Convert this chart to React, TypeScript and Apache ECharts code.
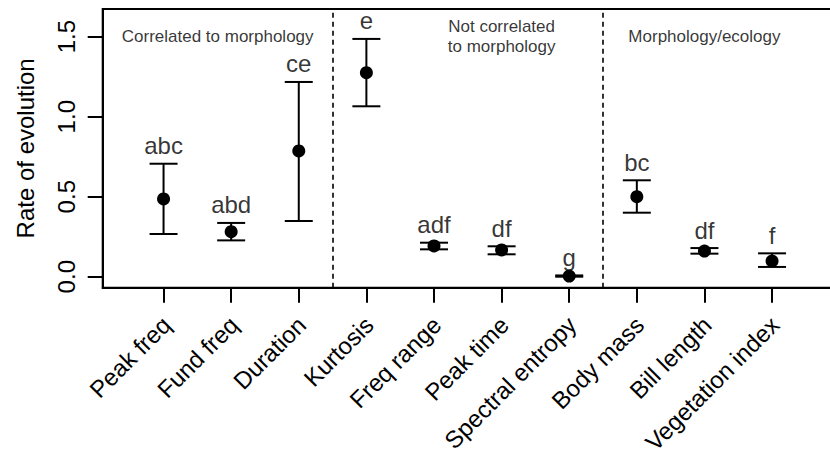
import React, { useEffect, useRef } from "react";
import * as echarts from "echarts";

const categories = [
  "Peak freq",
  "Fund freq",
  "Duration",
  "Kurtosis",
  "Freq range",
  "Peak time",
  "Spectral entropy",
  "Body mass",
  "Bill length",
  "Vegetation index",
];
const rate = [0.486, 0.281, 0.786, 1.275, 0.192, 0.167, 0.004, 0.5, 0.16, 0.098];
const lower = [0.267, 0.227, 0.348, 1.065, 0.171, 0.14, 0.0, 0.4, 0.144, 0.061];
const upper = [0.706, 0.336, 1.217, 1.486, 0.2125, 0.19, 0.008, 0.6025, 0.179, 0.146];
const letters = ["abc", "abd", "ce", "e", "adf", "df", "g", "bc", "df", "f"];
const yTicks = [0, 0.5, 1.0, 1.5];
const dividers = [3.5, 7.5];
const groupLabels = [
  { text: "Correlated to morphology", x: 1.8, y: 1.5 },
  { text: "Not correlated\nto morphology", x: 6, y: 1.5 },
  { text: "Morphology/ecology", x: 9, y: 1.5 },
];

const FONT = "'Liberation Sans', Arial, Helvetica, sans-serif";

export default function App() {
  const ref = useRef<HTMLDivElement>(null);
  useEffect(() => {
    if (!ref.current) return;
    const chart = echarts.init(ref.current, null, { renderer: "svg" });
    const positions = categories.map((_, i) => i + 1);
    const black = "#000";
    const option: any = {
      animation: false,
      textStyle: { fontFamily: FONT },
      grid: {
        left: 102.7,
        top: 9,
        width: 730.2,
        height: 278.7,
        show: true,
        borderColor: black,
        borderWidth: 2,
        containLabel: false,
        outerBoundsMode: "none",
      },
      xAxis: {
        type: "value",
        min: 0.1,
        max: 10.9,
        splitLine: { show: false },
        axisLine: { show: true, onZero: false, lineStyle: { color: black, width: 2 } },
        axisTick: {
          show: true,
          customValues: positions,
          length: 15,
          lineStyle: { color: black, width: 2 },
        },
        axisLabel: {
          customValues: positions,
          rotate: 45,
          fontSize: 24,
          color: black,
          fontFamily: FONT,
          margin: 36,
          padding: [0, -4, 0, 0],
          formatter: (v: number) => categories[Math.round(v) - 1] ?? "",
        },
      },
      yAxis: {
        type: "value",
        min: -0.06875,
        max: 1.673,
        splitLine: { show: false },
        name: "Rate of evolution",
        nameLocation: "middle",
        nameRotate: 90,
        nameGap: 65,
        nameTextStyle: { fontSize: 24, color: black, fontFamily: FONT },
        axisLine: { show: true, onZero: false, lineStyle: { color: black, width: 2 } },
        axisTick: {
          show: true,
          customValues: yTicks,
          length: 15,
          lineStyle: { color: black, width: 2 },
        },
        axisLabel: {
          customValues: yTicks,
          rotate: 90,
          fontSize: 24,
          color: black,
          fontFamily: FONT,
          margin: 24,
          formatter: (v: number) => v.toFixed(1),
        },
      },
      series: [
        {
          type: "custom",
          data: positions.map((p, i) => [p, lower[i], upper[i]]),
          encode: { x: 0, y: [1, 2] },
          renderItem: (params: any, api: any) => {
            const x = api.value(0);
            const pLo = api.coord([x, api.value(1)]);
            const pHi = api.coord([x, api.value(2)]);
            const hw = 14;
            const style = { stroke: black, lineWidth: 2 };
            return {
              type: "group",
              children: [
                { type: "line", shape: { x1: pLo[0], y1: pLo[1], x2: pHi[0], y2: pHi[1] }, style },
                { type: "line", shape: { x1: pLo[0] - hw, y1: pLo[1], x2: pLo[0] + hw, y2: pLo[1] }, style },
                { type: "line", shape: { x1: pHi[0] - hw, y1: pHi[1], x2: pHi[0] + hw, y2: pHi[1] }, style },
              ],
            };
          },
          markLine: {
            silent: true,
            symbol: "none",
            label: { show: false },
            lineStyle: { color: black, type: [5, 4], width: 1.6 },
            data: dividers.map((d) => ({ xAxis: d })),
          },
          z: 2,
        },
        {
          type: "scatter",
          data: positions.map((p, i) => [p, rate[i]]),
          symbol: "circle",
          symbolSize: 13,
          itemStyle: { color: black, opacity: 1 },
          z: 3,
        },
        {
          type: "scatter",
          data: positions.map((p, i) => ({ value: [p, upper[i]], name: letters[i] })),
          symbolSize: 0,
          itemStyle: { color: "transparent" },
          label: {
            show: true,
            position: "top",
            distance: 6,
            formatter: (p: any) => p.name,
            fontSize: 24,
            color: black,
            fontFamily: FONT,
          },
          z: 4,
        },
        {
          type: "scatter",
          data: groupLabels.map((g) => ({ value: [g.x, g.y], name: g.text })),
          symbolSize: 0,
          itemStyle: { color: "transparent" },
          label: {
            show: true,
            position: "inside",
            formatter: (p: any) => p.name,
            fontSize: 17,
            lineHeight: 20,
            color: black,
            fontFamily: FONT,
          },
          z: 4,
        },
      ],
    };
    chart.setOption(option);
    return () => chart.dispose();
  }, []);
  return (
    <div
      ref={ref}
      style={{ position: "fixed", left: 0, top: 0, width: 830, height: 463, background: "#fff" }}
    />
  );
}
